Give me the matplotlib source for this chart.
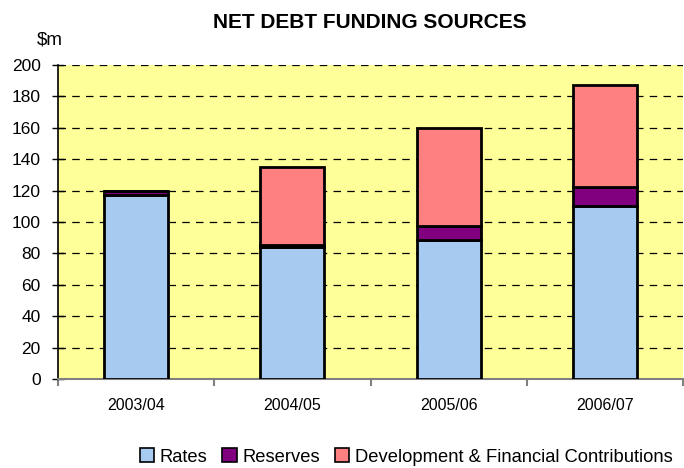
import matplotlib
matplotlib.use("Agg")
import matplotlib.pyplot as plt
import numpy as np
from matplotlib.patches import Patch

categories = ["2003/04", "2004/05", "2005/06", "2006/07"]
rates = [117, 84, 88.5, 110.5]
reserves = [2.5, 1.5, 9, 11.5]
contributions = [0, 49.5, 62.5, 65]
series_names = ["Rates", "Reserves", "Development & Financial Contributions"]
colors = ["#A6CAF0", "#800080", "#FF8080"]

plt.rcParams['font.family'] = ['Liberation Sans', 'DejaVu Sans']
fig = plt.figure(figsize=(6.84, 4.68), dpi=100)
ax = fig.add_axes([58/684, 1-379/468, 625/684, 314/468])
ax.set_facecolor("#FFFF99")
x = np.arange(len(categories))
w = 0.41
b1 = np.array(rates)
b2 = b1 + np.array(reserves)
ax.bar(x, rates, w, color=colors[0], edgecolor="black", linewidth=2, zorder=3)
ax.bar(x, reserves, w, bottom=b1, color=colors[1], edgecolor="black", linewidth=2, zorder=3)
ax.bar(x, contributions, w, bottom=b2, color=colors[2], edgecolor="black", linewidth=2, zorder=3)

ax.set_xlim(-0.5, len(categories) - 0.5)
ax.set_ylim(0, 200)
ax.set_yticks(range(0, 201, 20))
ax.yaxis.grid(True, linestyle=(0, (6, 5)), color="black", linewidth=0.9, zorder=1)
ax.set_axisbelow(True)
ax.set_xticks(x)
ax.set_xticklabels(categories, fontsize=11.5)
ax.set_xticks(np.arange(-0.5, len(categories), 1), minor=True)
ax.tick_params(axis='x', which='major', length=0, pad=14)
ax.tick_params(axis='x', which='minor', length=5, color="#808080", width=1.5)
ax.tick_params(axis='y', labelsize=12.5, length=9, width=1, direction="inout", pad=8)
for s in ["top", "right"]:
    ax.spines[s].set_visible(False)
ax.spines["left"].set_linewidth(1.2)
ax.spines["bottom"].set_color("#808080")
ax.spines["bottom"].set_linewidth(1.5)

fig.text(370/684, 1-22/468, "NET DEBT FUNDING SOURCES", ha="center", va="center",
         fontsize=15, fontweight="bold")
fig.text(50/684, 1-40/468, "$m", ha="center", va="center", fontsize=13.5)

handles = [Patch(facecolor=c, edgecolor="black", linewidth=1.2) for c in colors]
fig.legend(handles, series_names, loc="center", bbox_to_anchor=(406/684, 1-457/468),
           ncol=3, frameon=False, fontsize=13.2, handlelength=0.8, handleheight=0.8,
           handletextpad=0.3, columnspacing=0.8)
fig.savefig("out.png", dpi=100)
